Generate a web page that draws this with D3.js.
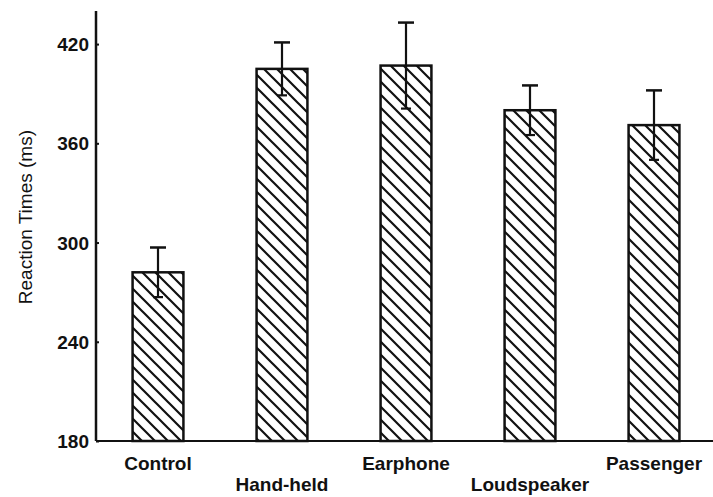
<!DOCTYPE html>
<html>
<head>
<meta charset="utf-8">
<script src="https://cdn.jsdelivr.net/npm/d3@7"></script>
<style>
  body { margin: 0; background: #fff; }
  svg { display: block; }
  text { font-family: "Liberation Sans", Arial, sans-serif; fill: #111; }
</style>
</head>
<body>
<svg></svg>
<script>
// размеры
const width = 713;
const height = 497;

// данные
const categories = ["Control", "Hand-held", "Earphone", "Loudspeaker", "Passenger"];
const means = [282, 405, 407, 380, 371];
const errors = [15, 16, 26, 15, 21];
const yTicks = [180, 240, 300, 360, 420];

const svg = d3.select("svg")
  .attr("width", width)
  .attr("height", height);

// штриховка
const defs = svg.append("defs");
defs.append("pattern")
  .attr("id", "hatch")
  .attr("patternUnits", "userSpaceOnUse")
  .attr("width", 13)
  .attr("height", 13)
  .append("path")
  .attr("d", "M0,0 L13,13 M-6.5,6.5 L6.5,19.5 M6.5,-6.5 L19.5,6.5")
  .attr("stroke", "#111")
  .attr("stroke-width", 2.2);

const x = d3.scaleBand()
  .domain(categories)
  .range([96, 716])
  .padding(0);

const y = d3.scaleLinear()
  .domain([180, 440])
  .range([441, 11]);

const barW = x.bandwidth() * 0.41;

// столбцы
svg.append("g")
  .selectAll("rect")
  .data(categories)
  .join("rect")
  .attr("x", d => x(d) + x.bandwidth() / 2 - barW / 2)
  .attr("y", (d, i) => y(means[i]))
  .attr("width", barW)
  .attr("height", (d, i) => y(180) - y(means[i]))
  .attr("fill", "url(#hatch)")
  .attr("stroke", "#111")
  .attr("stroke-width", 2.5);

// планки погрешностей
const eb = svg.append("g")
  .selectAll("g")
  .data(categories)
  .join("g")
  .attr("transform", d => `translate(${x(d) + x.bandwidth() / 2},0)`);

eb.append("line")
  .attr("y1", (d, i) => y(means[i] + errors[i]))
  .attr("y2", (d, i) => y(means[i] - errors[i]))
  .attr("stroke", "#111")
  .attr("stroke-width", 2.2);

eb.append("line")
  .attr("x1", -8).attr("x2", 8)
  .attr("y1", (d, i) => y(means[i] + errors[i]))
  .attr("y2", (d, i) => y(means[i] + errors[i]))
  .attr("stroke", "#111")
  .attr("stroke-width", 2.5);

eb.append("line")
  .attr("x1", -5).attr("x2", 5)
  .attr("y1", (d, i) => y(means[i] - errors[i]))
  .attr("y2", (d, i) => y(means[i] - errors[i]))
  .attr("stroke", "#111")
  .attr("stroke-width", 2.2);

// ось Y
const yAxis = svg.append("g")
  .attr("transform", "translate(96,0)")
  .call(d3.axisRight(y).tickValues(yTicks).tickSize(3).tickFormat(""));
yAxis.select(".domain")
  .attr("d", `M0,${y(440)}V${y(180)}`)
  .attr("stroke", "#111")
  .attr("stroke-width", 2.5);
yAxis.selectAll(".tick line").attr("stroke", "#111").attr("stroke-width", 2);

svg.append("g")
  .selectAll("text")
  .data(yTicks)
  .join("text")
  .attr("x", 89)
  .attr("y", d => y(d) + 7)
  .attr("text-anchor", "end")
  .attr("font-size", 19)
  .attr("font-weight", "bold")
  .text(d => d);

// ось X
svg.append("line")
  .attr("x1", 96).attr("x2", width)
  .attr("y1", y(180)).attr("y2", y(180))
  .attr("stroke", "#111")
  .attr("stroke-width", 2.2);

svg.append("g")
  .selectAll("text")
  .data(categories)
  .join("text")
  .attr("x", d => x(d) + x.bandwidth() / 2)
  .attr("y", (d, i) => i % 2 === 0 ? 470 : 491)
  .attr("text-anchor", "middle")
  .attr("font-size", 19)
  .attr("font-weight", "bold")
  .text(d => d);

// подпись оси Y
svg.append("text")
  .attr("transform", "translate(32,130) rotate(-90)")
  .attr("text-anchor", "end")
  .attr("font-size", 19)
  .text("Reaction Times (ms)");
</script>
</body>
</html>
